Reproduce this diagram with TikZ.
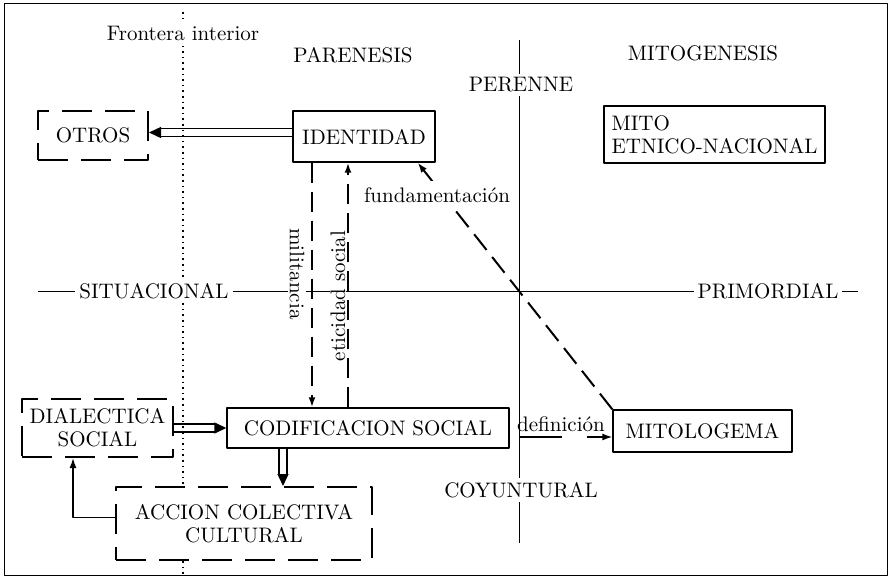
\documentclass[tikz,border=0pt]{standalone}
\usetikzlibrary{arrows.meta}
\tikzset{
  caja/.style={draw, fill=white, line width=0.7pt, inner sep=0pt, align=center},
  cajad/.style={caja, line width=1pt, dash pattern=on 15pt off 6.5pt},
  flecha/.style={line width=1pt, dash pattern=on 10pt off 4.5pt, ->},
  hueca/.style={double, line width=0.7pt, double distance=3.3pt, -{Triangle[length=6pt,width=5.5pt]}},
  eje/.style={line width=0.5pt},
  rot/.style={fill=white, inner sep=2pt}
}
\begin{document}
\begin{tikzpicture}[x=0.5pt,y=-0.5pt,font=\fontsize{10.5}{11.5}\selectfont,line join=round,>={Latex[length=5pt,width=3.5pt]}]
\def \xfront{183};
\def \xeje{519};
\def \yeje{291};
\useasboundingbox (0,0) rectangle (892,577);
\draw[eje] (4,4) rectangle (887,575);
% ejes
\draw[eje] (38,\yeje) -- (858,\yeje);
\draw[eje] (\xeje,40) -- (\xeje,543);
% cajas
\node (par) at (353,55) {PARENESIS};
\node (mitg) at (703,53) {MITOGENESIS};
\node[cajad, minimum width=55pt, minimum height=24.5pt] (otros) at (93,135.5) {OTROS};
\node[caja, minimum width=71pt, minimum height=25.5pt] (iden) at (364,136.5) {IDENTIDAD};
\node[caja, minimum width=110.5pt, minimum height=28.5pt, align=left] (mito) at (714.5,134.5) {MITO\\ETNICO-NACIONAL};
\node[cajad, minimum width=75.5pt, minimum height=29pt] (dial) at (97.5,428) {DIALECTICA\\SOCIAL};
\node[caja, minimum width=141pt, minimum height=20pt] (codif) at (368,428) {CODIFICACION SOCIAL};
\node[caja, minimum width=89.5pt, minimum height=21pt] (mitol) at (702.5,431) {MITOLOGEMA};
\node[cajad, minimum width=128pt, minimum height=36.5pt] (accion) at (244,523.5) {ACCION COLECTIVA\\CULTURAL};
% flechas
\draw[hueca] ([yshift=2pt]iden.west) -- ([yshift=2pt]iden.west -| otros.east);
\draw[hueca] (dial.east) -- (codif.west);
\draw[hueca] ([xshift=-42.5pt]codif.south) -- ([xshift=-42.5pt]codif.south |- accion.north);
\draw[->, line width=0.7pt] ([yshift=3pt]accion.west) -| ([xshift=-12.25pt]dial.south);
\draw[flecha] ([xshift=-26pt]iden.south) -- ([xshift=-26pt]iden.south |- codif.north)
  node[fill=white, inner sep=1pt, pos=.455, xshift=-7.5pt, rotate=-90] (milit) {militancia};
\draw[flecha] ([xshift=-8pt]iden.south |- codif.north) -- ([xshift=-8pt]iden.south)
  node[fill=white, inner sep=0.5pt, pos=.455, xshift=-5pt, rotate=90] (etic) {eticidad social};
\draw[flecha] (mitol.north west) -- ([xshift=-9pt]iden.south east)
  node[rot, inner sep=3pt, pos=.87, xshift=-3pt] (fund) {fundamentación};
\draw[->, line width=0.7pt, dash pattern=on 21pt off 12.5pt on 30pt off 5pt, dash phase=63.5pt] (codif.east |- 0,437) -- (mitol.west |- 0,437)
  node[midway, above, inner sep=2.5pt] (defi) {definición};
% frontera interior
\draw[line width=0.8pt, dotted] (\xfront,12) -- (accion.north -| \xfront,0) (accion.south -| \xfront,0) -- (\xfront,577);
\foreach \n/\x/\y/\l in {sit/154/\yeje/SITUACIONAL, pri/768/\yeje/PRIMORDIAL, per/521/85/PERENNE, coy/521/490/COYUNTURAL, fro/\xfront/33/Frontera interior}{\node[rot] (\n) at (\x,\y) {\l};}
\end{tikzpicture}
\end{document}
